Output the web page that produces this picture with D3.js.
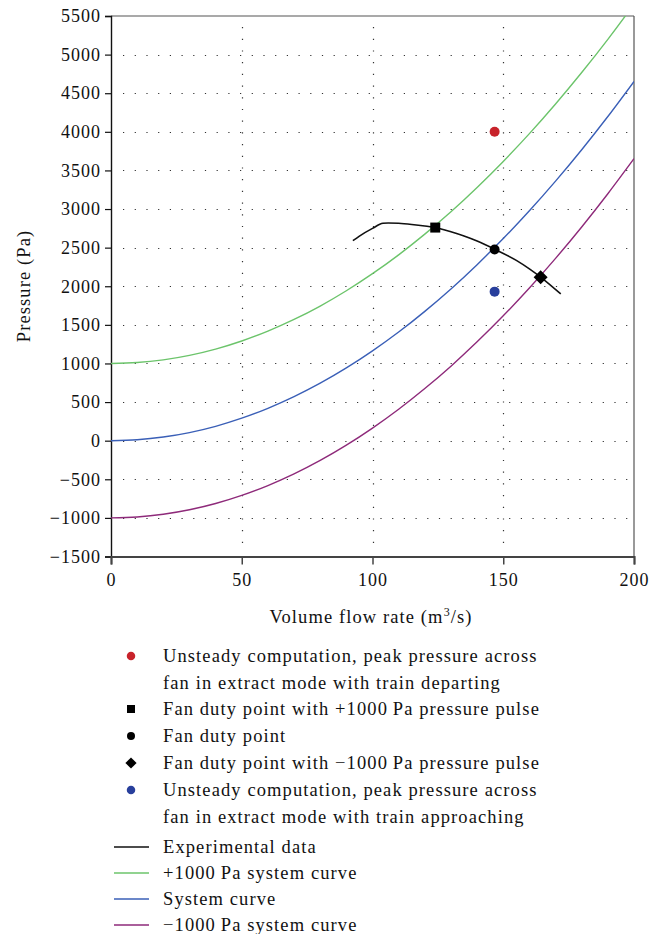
<!DOCTYPE html>
<html lang="en">
<head>
<meta charset="UTF-8">
<title>Fan duty point and system curves</title>
<script src="https://cdnjs.cloudflare.com/ajax/libs/d3/7.8.5/d3.min.js"></script>
<style>
  body { margin: 0; background: #fff; }
  svg text { font-family: "Liberation Serif", "DejaVu Serif", serif; fill: #111; }
</style>
</head>
<body>
<svg id="chart" width="660" height="934"></svg>
<script>
// flow rate (m3/s) sample positions for the system curves
const flowQ = [0, 10, 20, 30, 40, 50, 60, 70, 80, 90, 100, 110, 120, 130, 140, 150, 160, 170, 180, 190, 200];
// pressures (Pa)
const systemCurve = [0, 12, 47, 105, 186, 291, 419, 570, 744, 942, 1163, 1407, 1675, 1965, 2280, 2617, 2977, 3361, 3768, 4198, 4652];
const plusCurve = [1000, 1012, 1047, 1105, 1186, 1291, 1419, 1570, 1744, 1942, 2163, 2407, 2675, 2965, 3280, 3617, 3977, 4361, 4768, 5198, 5652];
const minusCurve = [-1000, -988, -953, -895, -814, -709, -581, -430, -256, -58, 163, 407, 675, 965, 1280, 1617, 1977, 2361, 2768, 3198, 3652];

// experimental fan characteristic
const expQ = [92.5, 95, 100, 104, 106, 110, 115, 120, 124, 130, 135, 140, 147, 155, 160, 165, 172];
const expP = [2590, 2650, 2750, 2815, 2820, 2815, 2800, 2780, 2760, 2705, 2650, 2585, 2475, 2335, 2225, 2100, 1900];

// marker points
const pointNames = ["departing", "plus", "duty", "minus", "approaching"];
const pointQ = [146.7, 124, 146.7, 164.3, 146.7];
const pointP = [4000, 2760, 2475, 2115, 1930];

const xTicks = [0, 50, 100, 150, 200];
const yTicks = [-1500, -1000, -500, 0, 500, 1000, 1500, 2000, 2500, 3000, 3500, 4000, 4500, 5000, 5500];

const markerLegend = [
  ["departing", ["Unsteady computation, peak pressure across", "fan in extract mode with train departing"]],
  ["plus", ["Fan duty point with +1000\u2009Pa pressure pulse"]],
  ["duty", ["Fan duty point"]],
  ["minus", ["Fan duty point with \u22121000\u2009Pa pressure pulse"]],
  ["approaching", ["Unsteady computation, peak pressure across", "fan in extract mode with train approaching"]]
];
const lineLegend = [
  ["exp", "Experimental data"],
  ["plus", "+1000\u2009Pa system curve"],
  ["system", "System curve"],
  ["minus", "\u22121000\u2009Pa system curve"]
];

const lineColor = { exp: "#111", plus: "#6cc46b", system: "#3a5fb7", minus: "#8e2a7a" };

const svg = d3.select("#chart");
const L = 111, R = 634, T = 16, B = 556.5;

const x = d3.scaleLinear().domain([0, 200]).range([L, R]);
const y = d3.scaleLinear().domain([-1500, 5500]).range([B, T]);
const fmt = d => d < 0 ? "\u2212" + Math.abs(d) : String(d);

svg.append("clipPath").attr("id", "clip")
  .append("rect").attr("x", L).attr("y", T).attr("width", R - L).attr("height", B - T);

// dotted grid
const grid = svg.append("g").attr("stroke", "#333").attr("stroke-width", 1.2)
  .attr("stroke-dasharray", "1.2,10.5").attr("stroke-linecap", "butt");
grid.selectAll(".hg").data(yTicks.filter(t => t > -1500 && t < 5500)).join("line")
  .attr("x1", L + 12).attr("x2", R - 2)
  .attr("y1", d => Math.round(y(d)) + 0.5).attr("y2", d => Math.round(y(d)) + 0.5);
grid.selectAll(".vg").data(xTicks.filter(t => t > 0 && t < 200)).join("line")
  .attr("x1", d => Math.round(x(d)) + 0.5).attr("x2", d => Math.round(x(d)) + 0.5)
  .attr("y1", T + 11).attr("y2", B - 6);

// frame
svg.append("line").attr("x1", L).attr("x2", R).attr("y1", T).attr("y2", T).attr("stroke", "#555").attr("stroke-width", 1.2);
svg.append("line").attr("x1", R).attr("x2", R).attr("y1", T).attr("y2", B).attr("stroke", "#555").attr("stroke-width", 1.2);

// axes
const yAxis = svg.append("g").attr("transform", `translate(${L},0)`)
  .call(d3.axisLeft(y).tickValues(yTicks).tickFormat(fmt).tickSize(6).tickPadding(4));
yAxis.select(".domain").attr("stroke", "#111").attr("stroke-width", 1.4);
yAxis.selectAll(".tick line").attr("stroke", "#111").attr("stroke-width", 1.2);
yAxis.selectAll("text").attr("font-size", 18).attr("letter-spacing", 1).attr("font-family", "Liberation Serif").attr("fill", "#111");

const xAxis = svg.append("g").attr("transform", `translate(0,${B})`)
  .call(d3.axisBottom(x).tickValues(xTicks).tickFormat(fmt).tickSize(8).tickPadding(9));
xAxis.select(".domain").attr("stroke", "#444").attr("stroke-width", 2);
xAxis.selectAll(".tick line").attr("stroke", "#444").attr("stroke-width", 1.5);
xAxis.selectAll("text").attr("font-size", 18).attr("letter-spacing", 1).attr("font-family", "Liberation Serif").attr("fill", "#111");

// axis titles
svg.append("text").attr("transform", `translate(30,286) rotate(-90)`)
  .attr("text-anchor", "middle").attr("font-size", 18.5).attr("letter-spacing", 1.1).text("Pressure (Pa)");
const xt = svg.append("text").attr("x", 371).attr("y", 623)
  .attr("text-anchor", "middle").attr("font-size", 18.5).attr("letter-spacing", 1.1);
xt.append("tspan").text("Volume flow rate (m");
xt.append("tspan").attr("dy", -7).attr("font-size", 12).text("3");
xt.append("tspan").attr("dy", 7).text("/s)");

// curves
const line = d3.line().x(d => x(d[0])).y(d => y(d[1])).curve(d3.curveMonotoneX);
const curves = svg.append("g").attr("clip-path", "url(#clip)").attr("fill", "none").attr("stroke-width", 1.4);
[["plus", plusCurve], ["system", systemCurve], ["minus", minusCurve]].forEach(([k, vals]) => {
  curves.append("path").attr("d", line(flowQ.map((q, i) => [q, vals[i]]))).attr("stroke", lineColor[k]);
});
curves.append("path").attr("d", line(expQ.map((q, i) => [q, expP[i]])))
  .attr("stroke", lineColor.exp).attr("stroke-width", 1.6);

// markers
function drawMarker(g, name, cx, cy, s) {
  s = s || 1;
  if (name === "departing") g.append("circle").attr("cx", cx).attr("cy", cy).attr("r", 5 * s).attr("fill", "#c8232b");
  if (name === "approaching") g.append("circle").attr("cx", cx).attr("cy", cy).attr("r", 5 * s).attr("fill", "#283f9c");
  if (name === "duty") g.append("circle").attr("cx", cx).attr("cy", cy).attr("r", 5 * s).attr("fill", "#000");
  if (name === "plus") g.append("rect").attr("x", cx - 5 * s).attr("y", cy - 5 * s)
    .attr("width", 10 * s).attr("height", 10 * s).attr("fill", "#000");
  if (name === "minus") g.append("path")
    .attr("d", `M${cx},${cy - 7 * s}L${cx + 7 * s},${cy}L${cx},${cy + 7 * s}L${cx - 7 * s},${cy}Z`).attr("fill", "#000");
}
const marks = svg.append("g");
pointNames.forEach((n, i) => drawMarker(marks, n, x(pointQ[i]), y(pointP[i])));

// legend
const leg = svg.append("g");
let ly = 662;
markerLegend.forEach(([k, lines]) => {
  drawMarker(leg, k, 131, ly - 6, k === "departing" || k === "approaching" ? 0.85 : 0.8);
  lines.forEach((t, j) => {
    leg.append("text").attr("x", 163).attr("y", ly + j * 27)
      .attr("font-size", 18.5).attr("letter-spacing", 1.1).text(t);
  });
  ly += lines.length === 2 ? 53 : 27;
});
ly = 853;
lineLegend.forEach(([k, t]) => {
  leg.append("line").attr("x1", 114).attr("x2", 149).attr("y1", ly - 6).attr("y2", ly - 6)
    .attr("stroke", lineColor[k]).attr("stroke-width", 1.4);
  leg.append("text").attr("x", 163).attr("y", ly)
    .attr("font-size", 18.5).attr("letter-spacing", 1.1).text(t);
  ly += 26;
});
</script>
</body>
</html>
